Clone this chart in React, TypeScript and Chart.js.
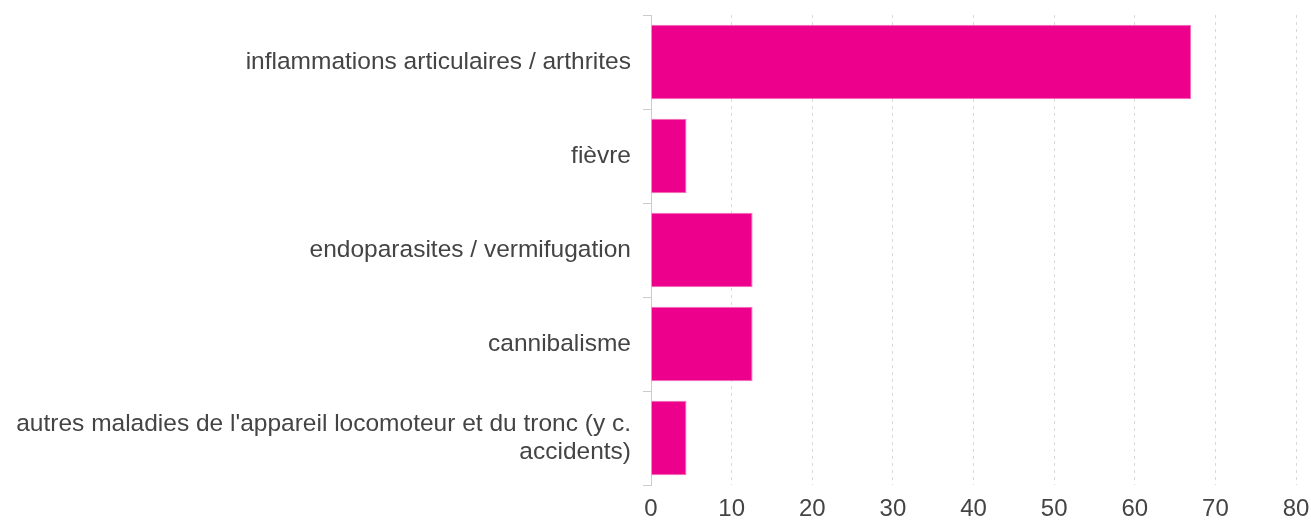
import React, { useEffect, useRef } from "react";
import { Chart, registerables } from "chart.js";

Chart.register(...registerables);

const categories: (string | string[])[] = [
  "inflammations articulaires / arthrites",
  "fièvre",
  "endoparasites / vermifugation",
  "cannibalisme",
  ["autres maladies de l'appareil locomoteur et du tronc (y c.", "accidents)"],
];

const values: number[] = [67, 4.4, 12.6, 12.6, 4.4];

const xMin = 0;
const xMax = 80;
const xStep = 10;

const BAR_COLOR = "#ec008c";
const TEXT_COLOR = "#444444";
const FONT = "'Liberation Sans', Arial, sans-serif";

export default function App() {
  const ref = useRef<HTMLCanvasElement | null>(null);

  useEffect(() => {
    if (!ref.current) return;
    const chart = new Chart(ref.current, {
      type: "bar",
      data: {
        labels: categories,
        datasets: [
          {
            data: values,
            backgroundColor: BAR_COLOR,
            borderColor: "#f26bb8",
            borderWidth: 1,
            categoryPercentage: 0.79,
            barPercentage: 1,
          },
        ],
      },
      options: {
        indexAxis: "y",
        animation: false,
        responsive: false,
        layout: { padding: { top: 15, right: 15, bottom: 0, left: 0 } },
        plugins: {
          legend: { display: false },
          tooltip: { enabled: false },
        },
        scales: {
          x: {
            min: xMin,
            max: xMax,
            ticks: {
              stepSize: xStep,
              color: TEXT_COLOR,
              font: { family: FONT, size: 24 },
              padding: 10,
            },
            grid: {
              color: "#d9d9d9",
              lineWidth: 1,
              drawTicks: false,
            },
            border: { display: false, dash: [3, 4] },
            afterFit: (scale: any) => {
              scale.height = 40;
              scale.paddingLeft = 0;
              scale.paddingRight = 0;
            },
          },
          y: {
            ticks: {
              color: TEXT_COLOR,
              font: { family: FONT, size: 24.5, lineHeight: 1.143 },
              padding: 12,
            },
            grid: {
              drawOnChartArea: false,
              drawTicks: true,
              tickLength: 8,
              color: "#cccccc",
              offset: true,
            },
            border: { display: true, color: "#cccccc" },
            afterFit: (scale: any) => {
              scale.width = 651;
              scale.paddingTop = 0;
              scale.paddingBottom = 0;
            },
          },
        },
      },
    });
    return () => chart.destroy();
  }, []);

  return (
    <div style={{ position: "fixed", left: 0, top: 0, width: 1311, height: 525 }}>
      <canvas ref={ref} width={1311} height={525} />
    </div>
  );
}
